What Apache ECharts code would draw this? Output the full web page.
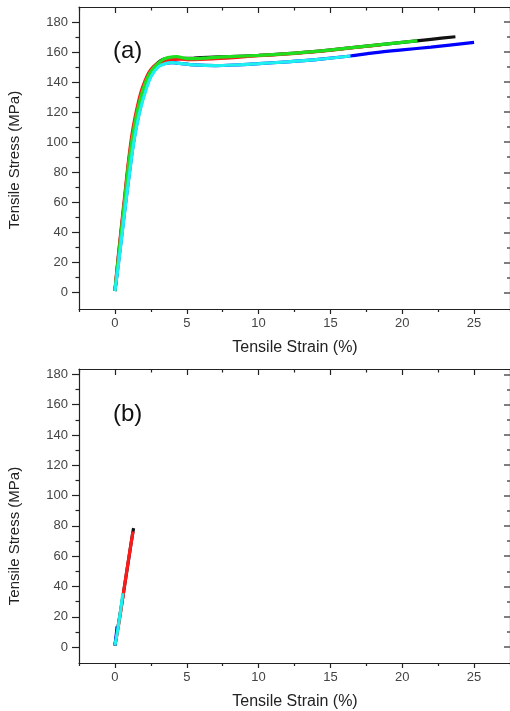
<!DOCTYPE html>
<html>
<head>
<meta charset="utf-8">
<script src="https://cdn.jsdelivr.net/npm/echarts@6/dist/echarts.min.js"></script>
<style>
  html, body { margin: 0; padding: 0; background: #fff; }
  #chart { width: 510px; height: 711px; }
</style>
</head>
<body>
<div id="chart"></div>
<script>
// Tick positions shared by both panels
const strainMajor = [0, 5, 10, 15, 20, 25];
const strainMinor = [-2.5, 2.5, 7.5, 12.5, 17.5, 22.5, 27.5];
const stressMajor = [0, 20, 40, 60, 80, 100, 120, 140, 160, 180];
const stressMinor = [10, 30, 50, 70, 90, 110, 130, 150, 170];

// Panel (a): five specimens
const aBlackStrain = [0, 0.2, 0.45, 0.7, 0.95, 1.2, 1.5, 1.8, 2.1, 2.4, 2.7, 3.0, 3.3, 3.7, 4.2, 4.8, 5.5, 6.5, 8, 10, 12, 14, 16, 18, 20, 22, 23.7];
const aBlackStress = [1, 20, 42, 64, 86, 103, 119, 131, 140, 146, 150, 153, 155, 156, 156.5, 155.8, 156, 156.5, 157, 157.8, 159, 160.5, 162.5, 164.5, 166.5, 168.5, 170.2];

const aRedStrain = [0, 0.2, 0.45, 0.7, 0.95, 1.2, 1.5, 1.8, 2.1, 2.4, 2.7, 3.0, 3.4, 3.9, 4.5, 5.2, 6, 7, 8.5, 10, 12, 14, 16, 18.5];
const aRedStress = [1, 21, 44, 66, 88, 106, 121, 133, 141, 147, 150.5, 152.5, 154, 155, 155.3, 155, 155.2, 155.6, 156.5, 157.6, 158.8, 160.3, 162.3, 164.8];

const aGreenStrain = [0, 0.2, 0.45, 0.7, 0.95, 1.2, 1.5, 1.8, 2.1, 2.4, 2.7, 3.0, 3.3, 3.7, 4.3, 4.9, 5.6, 6.5, 8, 10, 12, 14, 16, 18, 20, 21.06];
const aGreenStress = [1, 19, 41, 63, 85, 102, 118, 130, 139, 145.5, 149.5, 152.5, 154.8, 156.3, 157, 155.8, 155.6, 156.2, 157, 157.8, 159, 160.5, 162.5, 164.5, 166.5, 167.5];

const aBlueStrain = [0, 0.25, 0.5, 0.75, 1.0, 1.25, 1.5, 1.8, 2.1, 2.5, 3.0, 3.5, 4.0, 4.5, 5.5, 7, 8.5, 10, 12, 14, 16.4, 18, 20, 22, 25];
const aBlueStress = [1, 20, 40, 60, 79, 97, 111, 124, 134, 144, 150.5, 152.5, 153, 152.5, 151.5, 151, 151.5, 152.3, 153.5, 155, 157.4, 159.5, 161.5, 163.3, 166.4];

const aCyanStrain = [0, 0.25, 0.5, 0.75, 1.0, 1.25, 1.5, 1.8, 2.1, 2.5, 3.0, 3.5, 4.0, 4.5, 5.5, 7, 8.5, 10, 12, 14, 16.4];
const aCyanStress = [1, 19, 39, 59, 78, 96, 110, 123, 133, 143.5, 150, 152.3, 153, 152.5, 151.5, 151, 151.5, 152.3, 153.5, 155, 157.4];

// Panel (b): five specimens, early failure
const bBlackStrain = [0, 0.6, 1.2, 1.3];
const bBlackStress = [1, 36, 73, 78.5];
const bRedStrain = [0, 0.3, 0.6, 0.9, 1.1, 1.26];
const bRedStress = [1, 17, 36, 55, 67, 76.2];
const bCyanStrain = [0, 0.15, 0.3, 0.45, 0.55];
const bCyanStress = [1, 9, 18, 28, 35.6];
const bBlueStrain = [0, 0.08, 0.15];
const bBlueStress = [1, 7, 13.6];

const panels = [
  { top: 7, height: 302, yMin: -11, yMax: 190, tag: '(a)', tagY: 52 },
  { top: 369, height: 294, yMin: -10.5, yMax: 183.5, tag: '(b)', tagY: 415 }
];

const AX = '#222';
const LABEL = '#444';
const FONT = 'Liberation Sans, Arial, sans-serif';

function pairs(xs, ys) { return xs.map((x, i) => [x, ys[i]]); }

const grid = [];
const xAxis = [];
const yAxis = [];

panels.forEach((p, g) => {
  grid.push({ left: 79, top: p.top, width: 432, height: p.height, containLabel: false });
  const xBase = { type: 'value', gridIndex: g, min: -2.5, max: 27.5, splitLine: { show: false } };
  const yBase = { type: 'value', gridIndex: g, min: p.yMin, max: p.yMax, splitLine: { show: false } };
  // bottom: majors with labels
  xAxis.push(Object.assign({}, xBase, {
    position: 'bottom',
    axisLine: { show: true, onZero: false, lineStyle: { color: AX, width: 1.2 } },
    axisTick: { show: true, inside: false, length: 5, customValues: strainMajor, lineStyle: { color: AX, width: 1.2 } },
    axisLabel: { show: true, customValues: strainMajor, color: LABEL, fontSize: 13, fontFamily: FONT, margin: 8 }
  }));
  // bottom minors
  xAxis.push(Object.assign({}, xBase, {
    position: 'bottom',
    axisLine: { show: false, onZero: false },
    axisTick: { show: true, inside: false, length: 3, customValues: strainMinor, lineStyle: { color: AX, width: 1.2 } },
    axisLabel: { show: false }
  }));
  // top border with inward ticks
  xAxis.push(Object.assign({}, xBase, {
    position: 'top',
    axisLine: { show: true, onZero: false, lineStyle: { color: AX, width: 1.2 } },
    axisTick: { show: true, inside: true, length: 6, customValues: strainMajor, lineStyle: { color: AX, width: 1.2 } },
    axisLabel: { show: false }
  }));
  xAxis.push(Object.assign({}, xBase, {
    position: 'top',
    axisLine: { show: false, onZero: false },
    axisTick: { show: true, inside: true, length: 3.5, customValues: strainMinor, lineStyle: { color: AX, width: 1.2 } },
    axisLabel: { show: false }
  }));
  // left: majors with labels
  yAxis.push(Object.assign({}, yBase, {
    position: 'left',
    axisLine: { show: true, onZero: false, lineStyle: { color: AX, width: 1.2 } },
    axisTick: { show: true, inside: false, length: 7, customValues: stressMajor, lineStyle: { color: AX, width: 1.2 } },
    axisLabel: { show: true, customValues: stressMajor, color: LABEL, fontSize: 13, fontFamily: FONT, margin: 11 }
  }));
  yAxis.push(Object.assign({}, yBase, {
    position: 'left',
    axisLine: { show: false, onZero: false },
    axisTick: { show: true, inside: false, length: 3.5, customValues: stressMinor, lineStyle: { color: AX, width: 1.2 } },
    axisLabel: { show: false }
  }));
  // right border with inward ticks
  yAxis.push(Object.assign({}, yBase, {
    position: 'right',
    axisLine: { show: true, onZero: false, lineStyle: { color: AX, width: 1.2 } },
    axisTick: { show: true, inside: true, length: 6, customValues: stressMajor, lineStyle: { color: '#555', width: 1.5 } },
    axisLabel: { show: false }
  }));
  yAxis.push(Object.assign({}, yBase, {
    position: 'right',
    axisLine: { show: false, onZero: false },
    axisTick: { show: true, inside: true, length: 3, customValues: stressMinor, lineStyle: { color: '#555', width: 1.5 } },
    axisLabel: { show: false }
  }));
});

function curve(g, color, xs, ys, z) {
  return {
    type: 'line',
    xAxisIndex: g * 4,
    yAxisIndex: g * 4,
    data: pairs(xs, ys),
    showSymbol: false,
    smooth: 0.3,
    z: z,
    lineStyle: { color: color, width: 3.2 },
    itemStyle: { color: color },
    silent: true,
    animation: false
  };
}

const series = [
  curve(0, '#0000ff', aBlueStrain, aBlueStress, 2),
  curve(0, '#111111', aBlackStrain, aBlackStress, 3),
  curve(0, '#ff1a1a', aRedStrain, aRedStress, 4),
  curve(0, '#1fe01f', aGreenStrain, aGreenStress, 5),
  curve(0, '#1ef0f0', aCyanStrain, aCyanStress, 6),
  curve(1, '#111111', bBlackStrain, bBlackStress, 3),
  curve(1, '#ff1a1a', bRedStrain, bRedStress, 4),
  curve(1, '#0000ff', bBlueStrain, bBlueStress, 5),
  curve(1, '#1ef0f0', bCyanStrain, bCyanStress, 6)
];

const graphic = [];
panels.forEach((p) => {
  graphic.push({
    type: 'text', left: 113, top: p.tagY - 13,
    style: { text: p.tag, font: '24px ' + FONT, fill: '#111' }
  });
  graphic.push({
    type: 'text', x: 15, y: p.top + p.height / 2 + (p.top > 100 ? 20 : 2), rotation: Math.PI / 2,
    style: { text: 'Tensile Stress (MPa)', font: '15px ' + FONT, fill: '#222', align: 'center', verticalAlign: 'middle' }
  });
  graphic.push({
    type: 'text', x: 295, y: p.top + p.height + 39,
    style: { text: 'Tensile Strain (%)', font: '16px ' + FONT, fill: '#222', align: 'center', verticalAlign: 'middle' }
  });
});

const chart = echarts.init(document.getElementById('chart'), null, { renderer: 'canvas' });
chart.setOption({
  animation: false,
  backgroundColor: '#fff',
  grid: grid,
  xAxis: xAxis,
  yAxis: yAxis,
  series: series,
  graphic: graphic
});
</script>
</body>
</html>
